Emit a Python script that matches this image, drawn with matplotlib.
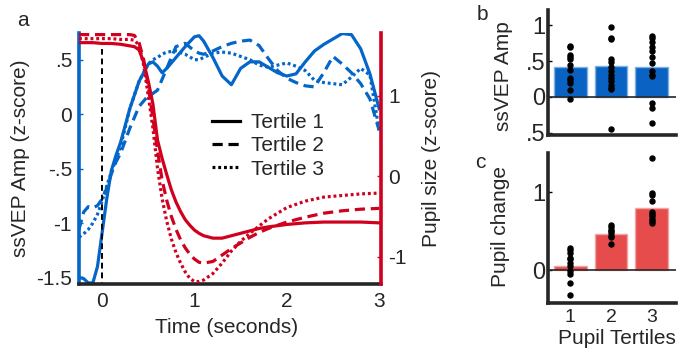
import matplotlib
matplotlib.use('Agg')
import matplotlib.pyplot as plt
from matplotlib.lines import Line2D

plt.rcParams['font.family'] = ['Liberation Sans', 'DejaVu Sans']
plt.rcParams['text.color'] = '#262626'
plt.rcParams['axes.labelcolor'] = '#262626'

blue = '#0466c8'
red = '#d1001f'
bar_blue = '#0a63c2'
bar_red = '#e64c4c'

# ssVEP amplitude time courses (left axis, z-score)
t_amp = [-0.25, -0.2, -0.15, -0.1, -0.05, 0, 0.05, 0.1, 0.15, 0.2, 0.3, 0.4, 0.5, 0.55, 0.6, 0.65,
         0.7, 0.8, 0.9, 1.0, 1.05, 1.1, 1.2, 1.3, 1.4, 1.5, 1.6, 1.7, 1.8, 1.9, 2.0, 2.1, 2.2,
         2.3, 2.4, 2.5, 2.6, 2.7, 2.8, 2.9, 3.0]
amp_t1 = [-1.50, -1.51, -1.55, -1.55, -1.40, -1.09, -0.78, -0.52, -0.38, -0.26, 0.05, 0.30, 0.46,
          0.48, 0.44, 0.38, 0.42, 0.52, 0.62, 0.71, 0.72, 0.67, 0.52, 0.35, 0.27, 0.42, 0.48,
          0.48, 0.43, 0.38, 0.35, 0.37, 0.48, 0.58, 0.64, 0.69, 0.74, 0.73, 0.60, 0.37, 0.05]
amp_t2 = [-1.06, -0.90, -0.85, -0.86, -0.84, -0.78, -0.68, -0.55, -0.44, -0.36, -0.13, 0.07, 0.17,
          0.19, 0.22, 0.32, 0.42, 0.62, 0.65, 0.58, 0.56, 0.55, 0.58, 0.62, 0.65, 0.67, 0.68,
          0.63, 0.51, 0.40, 0.33, 0.29, 0.26, 0.25, 0.38, 0.53, 0.46, 0.38, 0.28, 0.14, -0.15]
amp_t3 = [-1.13, -1.10, -1.06, -1.00, -0.92, -0.80, -0.66, -0.53, -0.42, -0.30, 0.05, 0.30, 0.46,
          0.50, 0.52, 0.55, 0.57, 0.58, 0.55, 0.50, 0.50, 0.52, 0.56, 0.57, 0.56, 0.53, 0.50,
          0.45, 0.43, 0.45, 0.47, 0.44, 0.40, 0.31, 0.29, 0.28, 0.27, 0.34, 0.42, 0.36, -0.15]

# pupil size time courses (right axis, z-score)
t_pup = [-0.25, -0.1, 0, 0.1, 0.2, 0.3, 0.35, 0.4, 0.45, 0.5, 0.55, 0.6, 0.65, 0.7, 0.75, 0.8,
         0.85, 0.9, 0.95, 1.0, 1.05, 1.1, 1.2, 1.3, 1.4, 1.5, 1.6, 1.7, 1.8, 2.0, 2.2, 2.4,
         2.6, 2.8, 3.0]
pup_t1 = [1.66, 1.66, 1.65, 1.65, 1.64, 1.62, 1.61, 1.57, 1.42, 1.18, 0.90, 0.45, 0.22, 0.02,
          -0.17, -0.32, -0.44, -0.54, -0.61, -0.67, -0.71, -0.74, -0.77, -0.77, -0.74, -0.71,
          -0.68, -0.65, -0.63, -0.60, -0.58, -0.57, -0.57, -0.57, -0.58]
pup_t2 = [1.76, 1.76, 1.76, 1.76, 1.76, 1.76, 1.75, 1.66, 1.45, 1.12, 0.72, 0.32, -0.05, -0.30,
          -0.50, -0.66, -0.79, -0.89, -0.97, -1.03, -1.07, -1.08, -1.06, -0.98, -0.90, -0.83,
          -0.76, -0.70, -0.65, -0.57, -0.51, -0.46, -0.43, -0.41, -0.40]
pup_t3 = [1.71, 1.71, 1.71, 1.71, 1.70, 1.70, 1.69, 1.63, 1.38, 1.00, 0.60, 0.10, -0.28, -0.56,
          -0.78, -0.95, -1.08, -1.19, -1.27, -1.31, -1.31, -1.29, -1.21, -1.08, -0.93, -0.81,
          -0.71, -0.62, -0.53, -0.39, -0.31, -0.26, -0.24, -0.22, -0.21]

tertiles = [1, 2, 3]
legend_labels = ['Tertile 1', 'Tertile 2', 'Tertile 3']

# panel b: mean ssVEP amp per tertile + subjects
amp_means = [0.41, 0.43, 0.41]
amp_subj = [
    [0.71, 0.69, 0.58, 0.55, 0.53, 0.45, 0.375, 0.26, 0.24, 0.19, 0.10, -0.03],
    [0.98, 0.82, 0.80, 0.53, 0.48, 0.41, 0.36, 0.31, 0.27, 0.22, 0.17, 0.12, 0.11, -0.45],
    [0.85, 0.82, 0.76, 0.70, 0.64, 0.55, 0.47, 0.36, 0.31, 0.29, -0.09, -0.15, -0.36],
]

# panel c: mean pupil change per tertile + subjects
pup_means = [0.06, 0.46, 0.79]
pup_subj = [
    [0.285, 0.26, 0.22, 0.16, 0.14, 0.09, 0.05, -0.01, -0.055, -0.16, -0.32],
    [0.58, 0.55, 0.52, 0.50, 0.47, 0.44, 0.43, 0.34],
    [1.44, 0.99, 0.96, 0.89, 0.75, 0.72, 0.69, 0.66, 0.63, 0.60],
]

styles = ['-', (0, (3.2, 1.8)), (0, (0.9, 0.9))]

fig = plt.figure(figsize=(6.79, 3.5), dpi=100)
W, H = 679, 350
ax1 = fig.add_axes([79 / W, 66 / H, 302 / W, 251 / H])
ax2 = ax1.twinx()
axb = fig.add_axes([548 / W, 215 / H, 128 / W, 125 / H])
axc = fig.add_axes([548 / W, 47 / H, 128 / W, 150 / H])

# ---- panel a ----
for y, ls in zip([amp_t1, amp_t2, amp_t3], styles):
    ax1.plot(t_amp, y, color=blue, lw=2.3, linestyle=ls)
ax1.plot([0, 0], [-1.6, 0.6], color='black', lw=1.4, linestyle=(0, (3, 2)))
for y, ls in zip([pup_t1, pup_t2, pup_t3], styles):
    ax2.plot(t_pup, y, color=red, lw=2.3, linestyle=ls)

ax1.set_xlim(-0.25, 3.02)
ax1.set_ylim(-1.56, 0.745)
ax2.set_ylim(-1.34, 1.78)
ax1.set_xticks([0, 1, 2, 3])
ax1.set_yticks([-1.5, -1, -0.5, 0, 0.5])
ax1.set_yticklabels(['-1.5', '-1', '-.5', '0', '.5'])
ax2.set_yticks([-1, 0, 1])
ax2.set_yticklabels(['-1', '0', '1'])

for s in ['top', 'right']:
    ax1.spines[s].set_visible(False)
for s in ['top', 'left', 'bottom']:
    ax2.spines[s].set_visible(False)
ax1.spines['left'].set_color(blue)
ax1.spines['left'].set_linewidth(2.6)
ax1.spines['bottom'].set_color('#262626')
ax1.spines['bottom'].set_linewidth(2.6)
ax2.spines['right'].set_color(red)
ax2.spines['right'].set_linewidth(2.6)

ax1.tick_params(axis='y', direction='in', length=3, width=1, color=blue, labelsize=15, pad=5,
                labelcolor='#262626')
ax1.tick_params(axis='x', direction='in', length=0, labelsize=15, pad=6, labelcolor='#262626')
ax2.tick_params(axis='y', direction='in', length=3, width=1, color=red, labelsize=15, pad=5,
                labelcolor='#262626')

ax1.set_xlabel('Time (seconds)', fontsize=15)
ax1.xaxis.set_label_coords(0.487, -0.135)
ax1.set_ylabel('ssVEP Amp (z-score)', fontsize=15)
ax1.yaxis.set_label_coords(-0.162, 0.5)
ax2.set_ylabel('Pupil size (z-score)', fontsize=15)
ax2.yaxis.set_label_coords(1.136, 0.5)

handles = [Line2D([], [], color='black', lw=2.3, linestyle=ls) for ls in styles]
ax1.legend(handles, legend_labels, loc='center left', bbox_to_anchor=(0.44, 0.55),
           frameon=False, fontsize=15, handlelength=1.35, handletextpad=0.55,
           labelspacing=0.2, borderpad=0, borderaxespad=0)

# ---- panels b and c ----
for ax, means, subj, col, edge in [(axb, amp_means, amp_subj, bar_blue, '#7fb0e3'),
                                     (axc, pup_means, pup_subj, bar_red, '#f4a3a3')]:
    ax.bar(tertiles, means, width=0.8, color=col, edgecolor=edge, linewidth=1, zorder=1)
    ax.axhline(0, color='#262626', lw=1.2, zorder=2)
    for x, vals in zip(tertiles, subj):
        ax.plot([x] * len(vals), vals, 'o', color='black', markersize=3.6, zorder=3)
    ax.set_xlim(0.45, 3.6)
    for s in ['top', 'right']:
        ax.spines[s].set_visible(False)
    for s in ['left', 'bottom']:
        ax.spines[s].set_linewidth(2.6)
        ax.spines[s].set_color('#262626')
    ax.tick_params(axis='y', direction='in', length=3, width=1, labelsize=17, pad=2,
                   labelcolor='#262626')

axb.set_ylim(-0.53, 1.21)
axb.set_yticks([-0.5, 0, 0.5, 1])
axb.set_yticklabels(['.5', '0', '.5', '1'])
axb.set_xticks([])
axb.set_ylabel('ssVEP Amp', fontsize=15)
axb.yaxis.set_label_coords(-0.273, 0.472)

axc.set_ylim(-0.42, 1.5)
axc.set_yticks([0, 1])
axc.set_yticklabels(['0', '1'])
axc.set_xticks(tertiles)
axc.tick_params(axis='x', length=0, labelsize=14, pad=4, labelcolor='#262626')
axc.set_ylabel('Pupil change', fontsize=15)
axc.yaxis.set_label_coords(-0.297, 0.513)
axc.set_xlabel('Pupil Tertiles', fontsize=15)
axc.xaxis.set_label_coords(0.54, -0.172)

fig.text(23 / W, 1 - 20 / H, 'a', fontsize=15, ha='center', va='center')
fig.text(482 / W, 1 - 15 / H, 'b', fontsize=15, ha='center', va='center')
fig.text(480 / W, 1 - 163 / H, 'c', fontsize=15, ha='center', va='center')

fig.savefig('out.png', dpi=100)
